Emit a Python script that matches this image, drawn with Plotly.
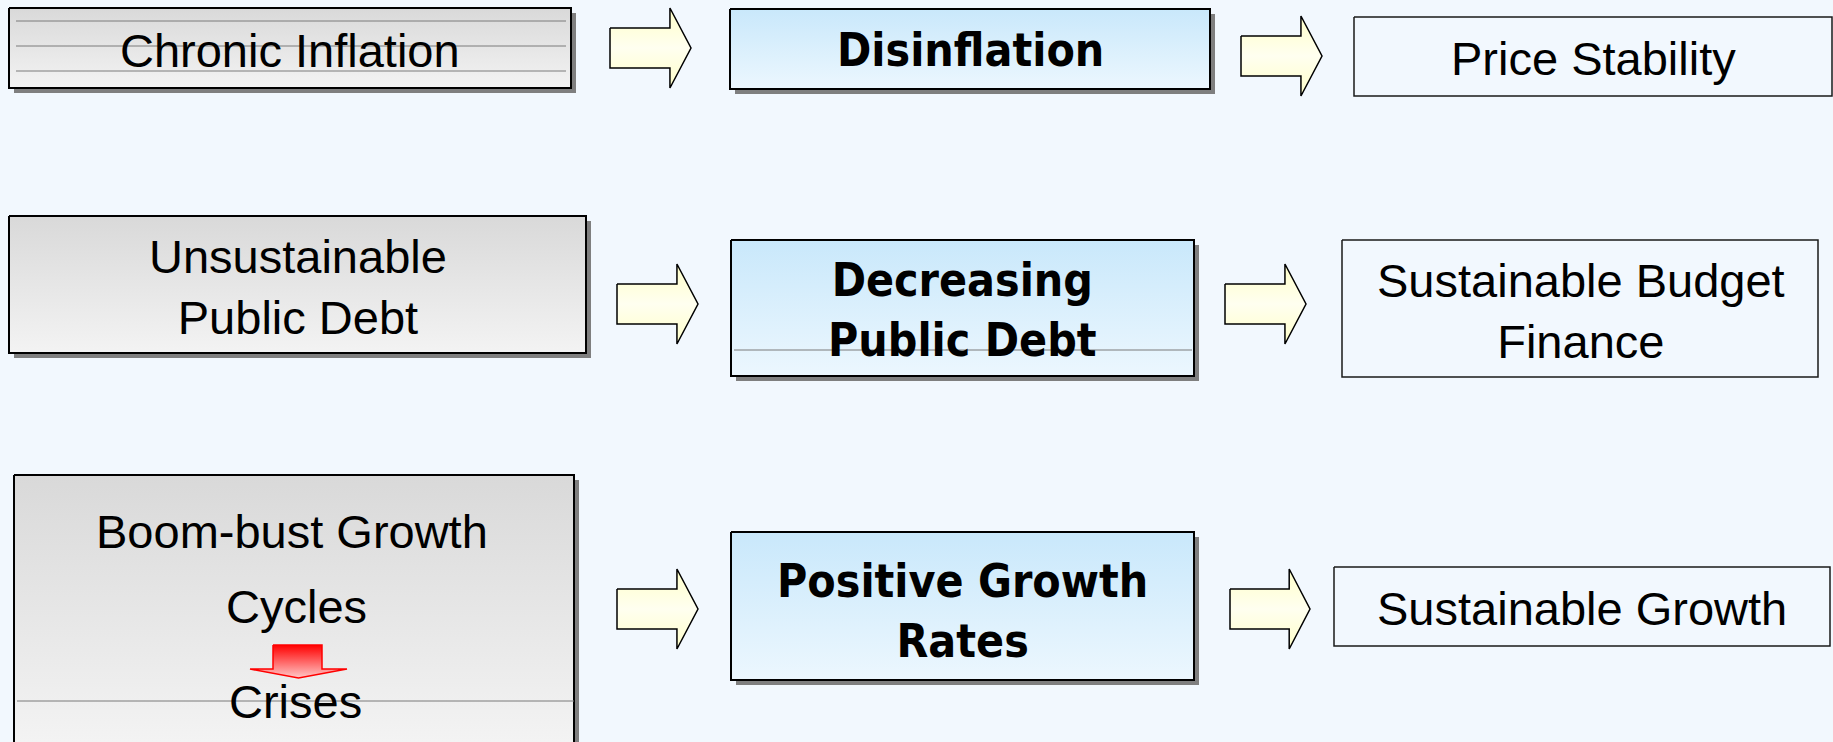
import plotly.graph_objects as go

# ---------------- content ----------------
problems = ["Chronic Inflation", "Unsustainable<br>Public Debt", "Boom-bust Growth"]
problem_notes = ["Cycles", "Crises"]
policies = ["Disinflation", "Decreasing<br>Public Debt", "Positive Growth<br>Rates"]
outcomes = ["Price Stability", "Sustainable Budget<br>Finance", "Sustainable Growth"]

# ---------------- layout geometry (pixels) ----------------
W, H = 1833, 742
BG = "#f2f8fe"
problem_boxes = [(9, 571, 8, 88), (9, 586, 216, 353), (14, 574, 475, 780)]
policy_boxes = [(730, 1210, 9, 89), (731, 1194, 240, 376), (731, 1194, 532, 680)]
outcome_boxes = [(1354, 1832, 17, 96), (1342, 1818, 240, 377), (1334, 1830, 567, 646)]
arrows_in = [(610, 691, 8, 88), (617, 698, 264, 344), (617, 698, 569, 649)]
arrows_out = [(1241, 1322, 16, 96), (1225, 1306, 264, 344), (1230, 1310, 569, 649)]
problem_text_pos = [(290, 50), (298, 287), (292, 531)]
note_text_pos = [(296, 606), (295, 701)]
policy_text_pos = [(970, 50), (962, 310), (962, 611)]
outcome_text_pos = [(1593, 58), (1581, 311), (1582, 608)]
stray_lines = [(16, 566, 21), (16, 566, 46), (16, 566, 71), (734, 1192, 350), (17, 574, 701)]
crisis_arrow = dict(x0=250, x1=347, sx0=273, sx1=322, y0=645, yh=669, y1=678)

SHADOW = 5
REG_FONT = "Liberation Sans, Arial, sans-serif"
BOLD_FONT = "DejaVu Sans Condensed, DejaVu Sans, Verdana, sans-serif"

fig = go.Figure()


def rect_xy(b):
    x0, x1, y0, y1 = b
    return [x0, x1, x1, x0, x0], [y0, y0, y1, y1, y0]


def add_box(b, top, bottom, shadow=True, lw=2, lc="#000000"):
    x0, x1, y0, y1 = b
    if shadow:
        xs, ys = rect_xy((x0 + SHADOW, x1 + SHADOW, y0 + SHADOW, y1 + SHADOW))
        fig.add_trace(go.Scatter(x=xs, y=ys, mode="lines", fill="toself",
                                 fillcolor="#7f7f7f", line=dict(width=0),
                                 hoverinfo="skip", showlegend=False))
    xs, ys = rect_xy(b)
    kw = {}
    if top is not None:
        kw = dict(fill="toself",
                  fillgradient=dict(type="vertical", start=y0, stop=min(y1, H),
                                    colorscale=[[0, top], [1, bottom]]))
    fig.add_trace(go.Scatter(x=xs, y=ys, mode="lines", line=dict(color=lc, width=lw),
                             hoverinfo="skip", showlegend=False, **kw))


def add_arrow(a):
    x0, x1, y0, y1 = a
    h = y1 - y0
    hx = x1 - 0.26 * (x1 - x0)
    st, sb = y0 + 0.25 * h, y1 - 0.25 * h
    ym = (y0 + y1) / 2
    xs = [x0, hx, hx, x1, hx, hx, x0, x0]
    ys = [st, st, y0, ym, y1, sb, sb, st]
    fig.add_trace(go.Scatter(x=xs, y=ys, mode="lines", fill="toself",
                             fillgradient=dict(type="vertical", start=y0, stop=y1,
                                               colorscale=[[0, "#ffffc8"], [0.5, "#fffff0"], [1, "#ffffc8"]]),
                             line=dict(color="#000000", width=1.5),
                             hoverinfo="skip", showlegend=False))


for b in problem_boxes:
    add_box(b, "#d9d9d9", "#f3f3f3")
for b in policy_boxes:
    add_box(b, "#c9e8fb", "#ecf7fe")
for b in outcome_boxes:
    add_box(b, None, None, shadow=False, lw=1.5, lc="#1a1a1a")
for a in arrows_in + arrows_out:
    add_arrow(a)

for x0, x1, y in stray_lines:
    fig.add_trace(go.Scatter(x=[x0, x1], y=[y, y], mode="lines",
                             line=dict(color="#7a7a7a", width=1),
                             hoverinfo="skip", showlegend=False))

# red down arrow (cycles -> crises)
c = crisis_arrow
xm = (c["x0"] + c["x1"]) / 2
cx = [c["sx0"], c["sx1"], c["sx1"], c["x1"], xm, c["x0"], c["sx0"], c["sx0"]]
cy = [c["y0"], c["y0"], c["yh"], c["yh"], c["y1"], c["yh"], c["yh"], c["y0"]]
fig.add_trace(go.Scatter(x=cx, y=cy, mode="lines", fill="toself",
                         fillgradient=dict(type="vertical", start=c["y0"], stop=c["y1"],
                                           colorscale=[[0, "#ff0000"], [1, "#ffc8c8"]]),
                         line=dict(color="#ff0000", width=1.5),
                         hoverinfo="skip", showlegend=False))


def label(text, pos, bold=False):
    fig.add_annotation(x=pos[0], y=pos[1], text=text, showarrow=False,
                       xanchor="center", yanchor="middle",
                       font=dict(family=BOLD_FONT if bold else REG_FONT,
                                 size=46 if bold else 47, color="#000000",
                                 weight="bold" if bold else "normal"))


for t, p in zip(problems, problem_text_pos):
    label(t, p)
for t, p in zip(problem_notes, note_text_pos):
    label(t, p)
for t, p in zip(policies, policy_text_pos):
    label(t, p, bold=True)
for t, p in zip(outcomes, outcome_text_pos):
    label(t, p)

fig.update_layout(
    width=W, height=H, margin=dict(l=0, r=0, t=0, b=0),
    paper_bgcolor=BG, plot_bgcolor=BG, showlegend=False,
    xaxis=dict(range=[0, W], visible=False, fixedrange=True),
    yaxis=dict(range=[H, 0], visible=False, fixedrange=True),
)

fig.write_html("out.html", config={"displayModeBar": False},
               post_script="document.body.style.margin='0';document.body.style.overflow='hidden';")
